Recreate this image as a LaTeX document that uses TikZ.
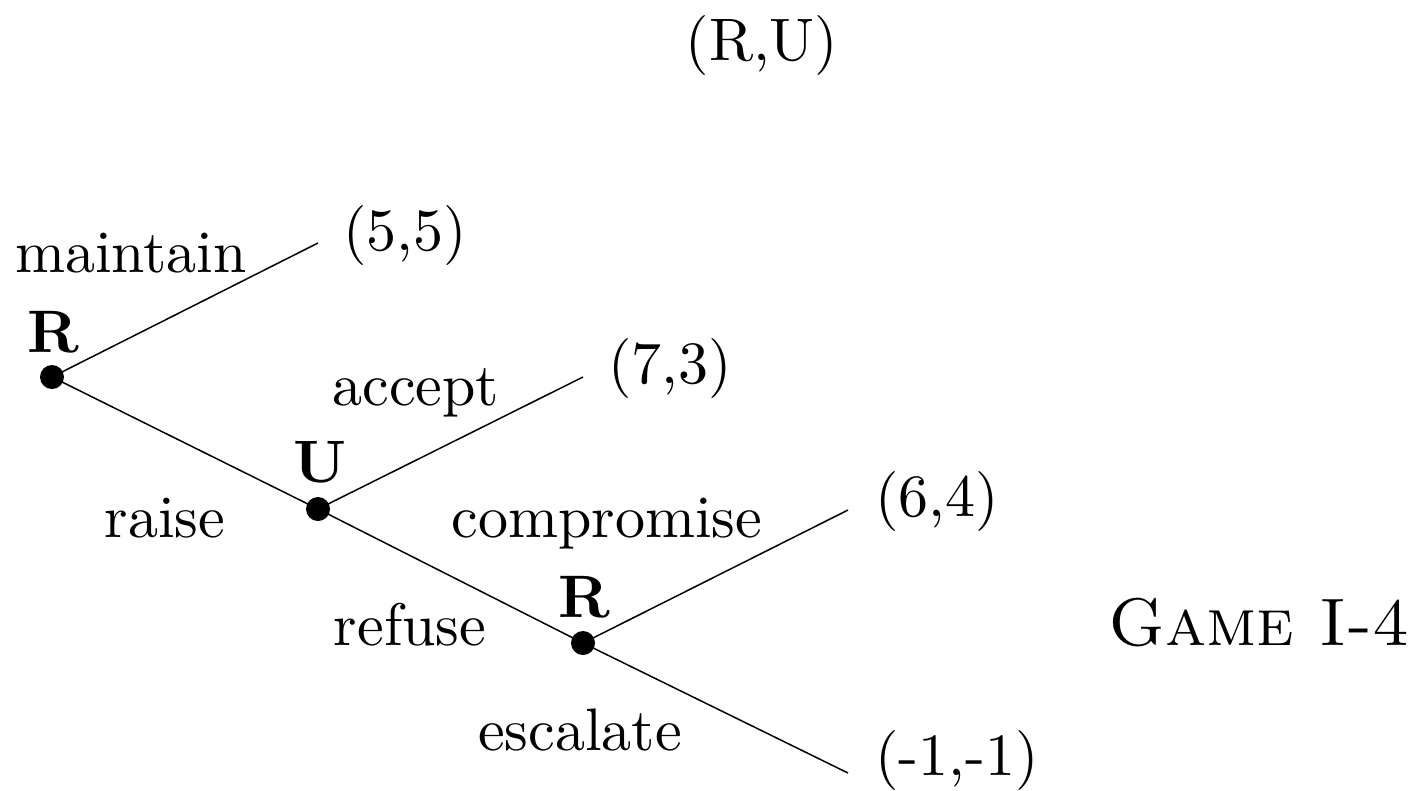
\documentclass[tikz,border=0pt]{standalone}
\begin{document}
\begin{tikzpicture}[x=0.16667pt,y=-0.16667pt,
  dot/.style={circle,fill=black,inner sep=0pt,minimum size=4pt},
  lbl/.style={anchor=base,inner sep=0pt,font=\fontsize{10}{12}\selectfont},
  branch/.style={line width=0.25pt}]
\useasboundingbox (0,0) rectangle (1414,790);
\node[dot] (r1) at (52,377) {};
\node[dot] (u) at (318,509) {};
\node[dot] (r2) at (583,643) {};
\coordinate (e1) at (318,243);
\coordinate (e2) at (583,377);
\coordinate (e3) at (848,510);
\coordinate (e4) at (848,773);
\draw[branch] (r1.center) -- (e1);
\draw[branch] (r1.center) -- (u.center);
\draw[branch] (u.center) -- (e2);
\draw[branch] (u.center) -- (r2.center);
\draw[branch] (r2.center) -- (e3);
\draw[branch] (r2.center) -- (e4);
\node[lbl] (ru) at (762,60) {(R,U)};
\node[lbl] (lm) at (131,272) {maintain};
\node[lbl] (p1) at (405,250) {(5,5)};
\node[lbl] (n1) at (53,352) {\textbf{R}};
\node[lbl] (la) at (416,405) {accept};
\node[lbl] (p2) at (670,383) {(7,3)};
\node[lbl] (n2) at (320,482) {\textbf{U}};
\node[lbl] (lr) at (165,537) {raise};
\node[lbl] (lc) at (607,537) {compromise};
\node[lbl] (p3) at (937,516) {(6,4)};
\node[lbl] (n3) at (584,617) {\textbf{R}};
\node[lbl] (lf) at (410,645) {refuse};
\node[lbl,font=\fontsize{11.2}{13}\selectfont] (g) at (1259,645) {\textsc{Game I-4}};
\node[lbl] (le) at (580,750) {escalate};
\node[lbl] (p4) at (957,775) {(-1,-1)};
\end{tikzpicture}
\end{document}
